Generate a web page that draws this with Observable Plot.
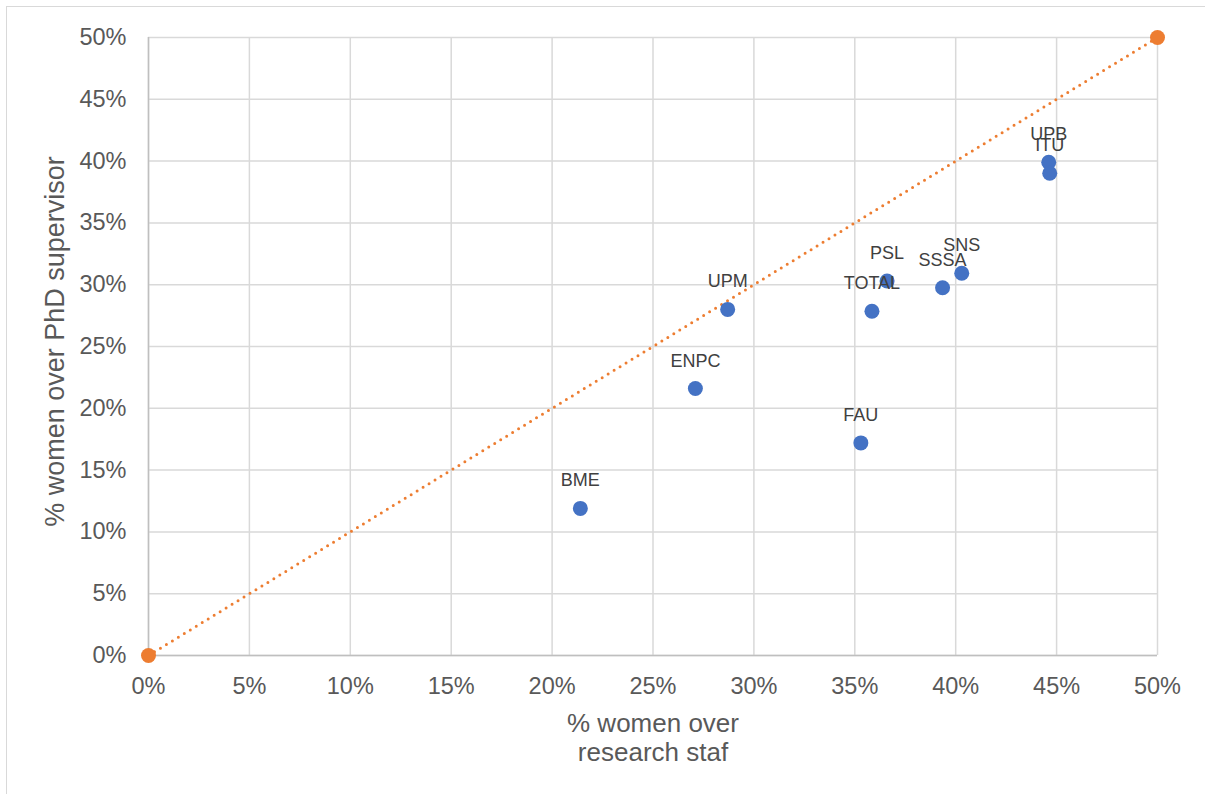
<!DOCTYPE html>
<html>
<head>
<meta charset="utf-8">
<script src="https://cdn.jsdelivr.net/npm/d3@7"></script>
<script src="https://cdn.jsdelivr.net/npm/@observablehq/plot@0.6"></script>
<style>
  html, body { margin: 0; padding: 0; background: #fff; overflow: hidden; width: 1205px; height: 794px; }
  #wrap { position: relative; width: 1205px; height: 794px; }
  #border { position: absolute; left: 6px; top: 6px; width: 1400px; height: 1000px; border: 1.5px solid #d9d9d9; box-sizing: border-box; pointer-events: none; }
  #chart { position: absolute; left: 0; top: 0; }
</style>
</head>
<body>
<div id="wrap"><div id="border"></div><div id="chart"></div></div>
<script>
const institutions = ["BME", "ENPC", "UPM", "FAU", "TOTAL", "PSL", "SSSA", "SNS", "UPB", "ITU"];
const womenResearchStaff = [0.214, 0.271, 0.287, 0.353, 0.3585, 0.366, 0.3935, 0.403, 0.4461, 0.4466];
const womenPhdSupervisor = [0.119, 0.216, 0.280, 0.172, 0.2785, 0.303, 0.2975, 0.3093, 0.3991, 0.3902];
const parityX = [0, 0.5];
const parityY = [0, 0.5];
const tickValues = [0, 0.05, 0.10, 0.15, 0.20, 0.25, 0.30, 0.35, 0.40, 0.45, 0.50];
const xTitle = "% women over\nresearch staf";
const yTitle = "% women over PhD supervisor";

const points = institutions.map((name, i) => ({name, x: womenResearchStaff[i], y: womenPhdSupervisor[i]}));
const parity = parityX.map((x, i) => ({x, y: parityY[i]}));
const pct = d3.format(".0%");

const chart = Plot.plot({
  width: 1205,
  height: 794,
  marginLeft: 148,
  marginRight: 48,
  marginTop: 37,
  marginBottom: 139,
  style: {fontFamily: "'Liberation Sans', Arial, sans-serif", color: "#595959", background: "transparent"},
  x: {domain: [0, 0.5]},
  y: {domain: [0, 0.5]},
  marks: [
    Plot.gridX(tickValues, {stroke: "#d9d9d9", strokeOpacity: 1, strokeWidth: 1.5}),
    Plot.gridY(tickValues, {stroke: "#d9d9d9", strokeOpacity: 1, strokeWidth: 1.5}),
    Plot.axisX({ticks: tickValues, tickFormat: pct, tickSize: 0, tickPadding: 22, fontSize: 23.5, label: null}),
    Plot.axisY({ticks: tickValues, tickFormat: pct, tickSize: 0, tickPadding: 22, fontSize: 23.5, label: null}),
    Plot.ruleX([0], {stroke: "#bfbfbf", strokeWidth: 1.5}),
    Plot.ruleY([0], {stroke: "#bfbfbf", strokeWidth: 1.5}),
    Plot.line(parity, {x: "x", y: "y", stroke: "#ED7D31", strokeWidth: 3, strokeDasharray: "0 7", strokeLinecap: "round"}),
    Plot.dot(parity, {x: "x", y: "y", r: 7.5, fill: "#ED7D31"}),
    Plot.dot(points, {x: "x", y: "y", r: 7.5, fill: "#4472C4"}),
    Plot.text(points, {x: "x", y: "y", text: "name", dy: -22, lineAnchor: "bottom", textAnchor: "middle", fontSize: 18, fill: "#404040"}),
    Plot.text([xTitle], {frameAnchor: "bottom", dy: 56, lineAnchor: "top", lineHeight: 1.12, fontSize: 26, fill: "#595959", textAnchor: "middle"}),
    Plot.text([yTitle], {frameAnchor: "left", dx: -93, dy: -5, rotate: -90, lineAnchor: "middle", fontSize: 27, fill: "#595959", textAnchor: "middle"})
  ]
});
document.getElementById("chart").appendChild(chart);
</script>
</body>
</html>
